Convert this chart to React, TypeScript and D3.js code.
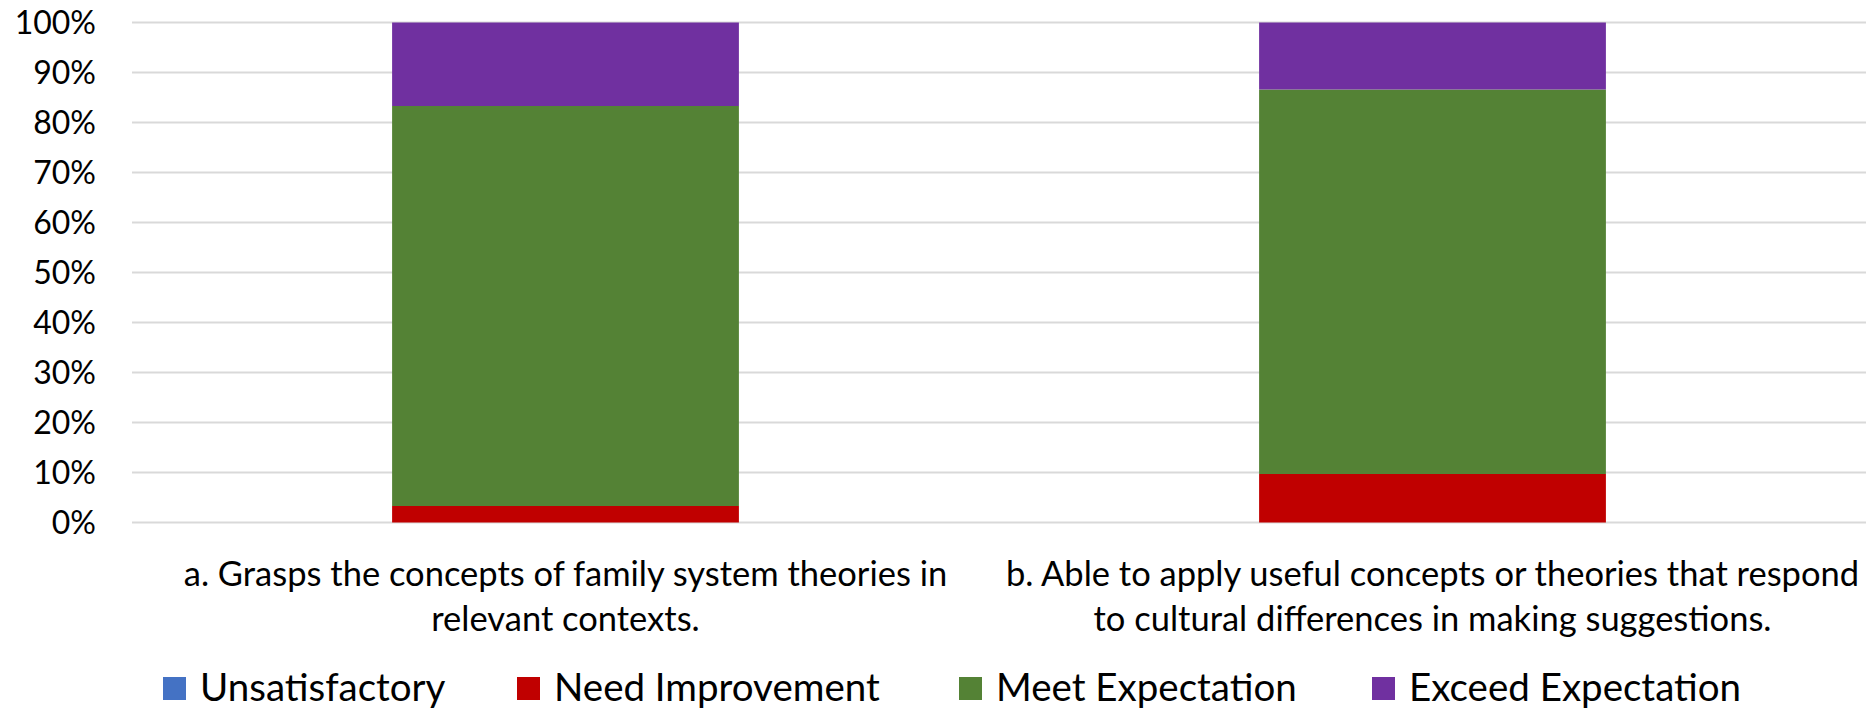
import React, { useEffect } from "react";
import * as d3 from "d3";

const categories = ["a", "b"];
const categoryLines = [
  ["a. Grasps the concepts of family system theories in", "relevant contexts."],
  ["b. Able to apply useful concepts or theories that respond", "to cultural differences in making suggestions."],
];
const seriesNames = ["Unsatisfactory", "Need Improvement", "Meet Expectation", "Exceed Expectation"];
const unsatisfactory = [0, 0];
const needImprovement = [0.033, 0.097];
const meetExpectation = [0.8, 0.769];
const exceedExpectation = [0.167, 0.134];
const yTicks = [0, 0.1, 0.2, 0.3, 0.4, 0.5, 0.6, 0.7, 0.8, 0.9, 1];
const colors = ["#4472C4", "#C00000", "#548235", "#7030A0"];

const W = 1873;
const H = 710;
const FONT = "Lato, 'Open Sans', sans-serif";

const App = () => {
  useEffect(() => {
    document.body.style.margin = "0";
  }, []);

  const rows = categories.map((c, i) => ({
    cat: c,
    [seriesNames[0]]: unsatisfactory[i],
    [seriesNames[1]]: needImprovement[i],
    [seriesNames[2]]: meetExpectation[i],
    [seriesNames[3]]: exceedExpectation[i],
  }));
  const stacked = d3.stack<any>().keys(seriesNames)(rows);

  const x = d3.scaleBand().domain(categories).range([132, 1866]).paddingInner(0.6).paddingOuter(0.3);
  const y = d3.scaleLinear().domain([0, 1]).range([522.5, 22.5]);
  const fmt = d3.format(".0%");

  // legend layout
  const legendX = [163, 517, 959, 1372];

  return (
    <svg width={W} height={H} style={{ display: "block", background: "#fff" }} fontFamily={FONT}>
      {yTicks.map((t) => (
        <g key={t}>
          <line x1={132} x2={1866} y1={y(t)} y2={y(t)} stroke="#d9d9d9" strokeWidth={2} />
          <text x={96} y={y(t)} dy="0.36em" textAnchor="end" fontSize={32} fill="#000">
            {fmt(t)}
          </text>
        </g>
      ))}
      {stacked.map((s, si) => (
        <g key={s.key} fill={colors[si]}>
          {s.map((d, i) => (
            <rect
              key={i}
              x={x(categories[i])}
              width={x.bandwidth()}
              y={y(d[1])}
              height={Math.max(0, y(d[0]) - y(d[1]))}
            />
          ))}
        </g>
      ))}
      {categories.map((c, i) => (
        <text key={c} textAnchor="middle" fontSize={34.5} fill="#000">
          {categoryLines[i].map((ln, j) => (
            <tspan key={j} x={(x(c) as number) + x.bandwidth() / 2} y={586 + j * 45}>
              {ln}
            </tspan>
          ))}
        </text>
      ))}
      {seriesNames.map((n, i) => (
        <g key={n} transform={`translate(${legendX[i]},0)`}>
          <rect x={0} y={677} width={23} height={23} fill={colors[i]} />
          <text x={37} y={701} fontSize={38.5} fill="#000">
            {n}
          </text>
        </g>
      ))}
    </svg>
  );
};

export default App;
